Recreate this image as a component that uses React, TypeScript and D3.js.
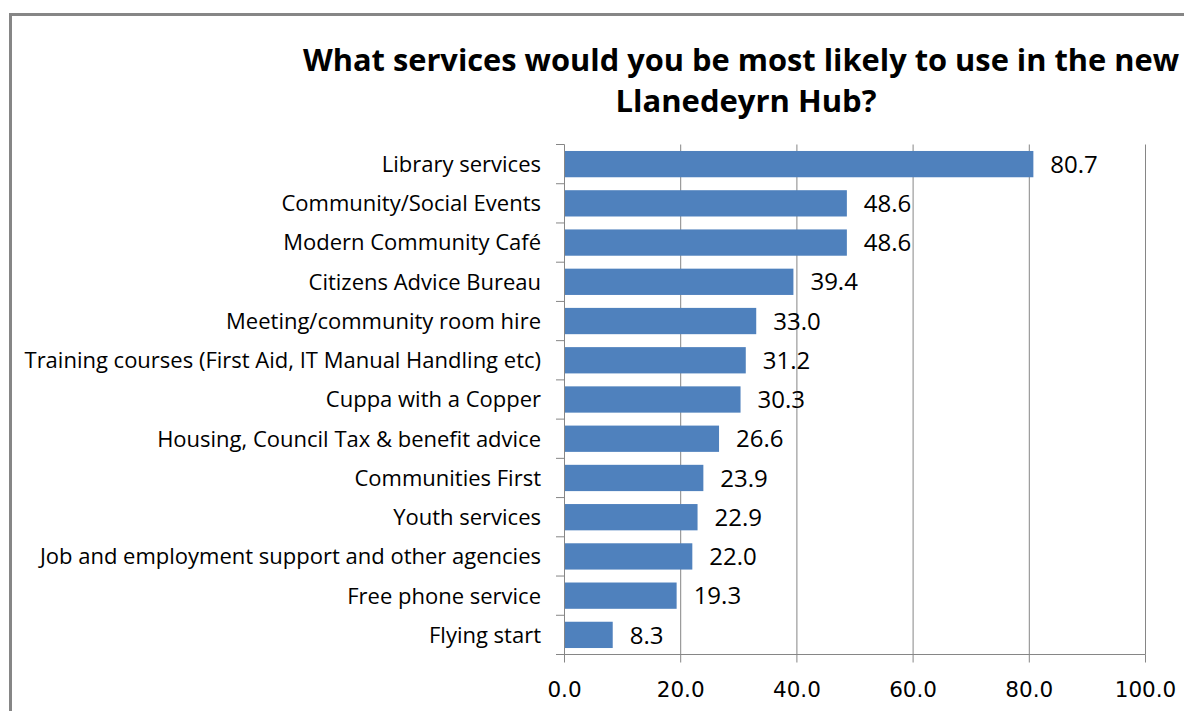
import React from "react";
import * as d3 from "d3";

const categories = [
  "Library services",
  "Community/Social Events",
  "Modern Community Café",
  "Citizens Advice Bureau",
  "Meeting/community room hire",
  "Training courses (First Aid, IT Manual Handling etc)",
  "Cuppa with a Copper",
  "Housing, Council Tax & benefit advice",
  "Communities First",
  "Youth services",
  "Job and employment support and other agencies",
  "Free phone service",
  "Flying start",
];
const values = [80.7, 48.6, 48.6, 39.4, 33.0, 31.2, 30.3, 26.6, 23.9, 22.9, 22.0, 19.3, 8.3];
const xTicks = [0, 20, 40, 60, 80, 100];
const titleLines = ["What services would you be most likely to use in the new", "Llanedeyrn Hub?"];

const W = 1184;
const H = 711;
const left = 564.5;
const right = 1145.5;
const top = 144.5;
const bottom = 654.5;
const gridColor = "#868686";
const barColor = "#4F81BD";
const font = "'Open Sans', Lato, sans-serif";
const tickFont = "'DejaVu Sans', sans-serif";

export default function App() {
  const x = d3.scaleLinear().domain([0, 100]).range([left, right]);
  const y = d3.scaleBand<string>().domain(categories).range([top, bottom]).paddingInner(0.33).paddingOuter(0.165);
  const step = y.step();
  return (
    <svg width={W} height={H} style={{ position: "absolute", left: 0, top: 0, background: "#fff" }}>
      <rect x={10.5} y={14.5} width={W + 20} height={H + 20} fill="#fff" stroke={gridColor} strokeWidth={3} />
      {titleLines.map((t, i) => (
        <text key={i} x={i === 0 ? 741 : 746} y={71 + i * 41} textAnchor="middle" fontFamily={font} fontWeight="bold" fontSize={i === 0 ? 30.8 : 31} fill="#000">
          {t}
        </text>
      ))}
      {xTicks.slice(1).map((t) => (
        <line key={"g" + t} x1={x(t)} x2={x(t)} y1={top} y2={bottom} stroke={gridColor} strokeWidth={1} />
      ))}
      {values.map((v, i) => (
        <rect key={"b" + i} x={x(0)} y={y(categories[i])!} width={x(v) - x(0)} height={y.bandwidth()} fill={barColor} />
      ))}
      <line x1={left} x2={left} y1={top} y2={bottom} stroke={gridColor} strokeWidth={1} />
      <line x1={556} x2={right} y1={bottom} y2={bottom} stroke={gridColor} strokeWidth={1} />
      {d3.range(categories.length + 1).map((i) => (
        <line key={"ct" + i} x1={556} x2={left} y1={top + i * step} y2={top + i * step} stroke={gridColor} strokeWidth={1} />
      ))}
      {xTicks.map((t) => (
        <g key={"xt" + t}>
          <line x1={x(t)} x2={x(t)} y1={bottom} y2={bottom + 8} stroke={gridColor} strokeWidth={1} />
          <text x={x(t)} y={697} textAnchor="middle" fontFamily={tickFont} fontSize={21.5} fill="#000">
            {d3.format(".1f")(t)}
          </text>
        </g>
      ))}
      {categories.map((c, i) => (
        <text key={"cl" + i} x={541} y={y(c)! + y.bandwidth() / 2} dy="0.36em" textAnchor="end" fontFamily={font} fontSize={22} fill="#000">
          {c}
        </text>
      ))}
      {values.map((v, i) => (
        <text key={"vl" + i} x={x(v) + 17} y={y(categories[i])! + y.bandwidth() / 2} dy="0.36em" fontFamily={font} fontSize={24} fill="#000">
          {d3.format(".1f")(v)}
        </text>
      ))}
    </svg>
  );
}
